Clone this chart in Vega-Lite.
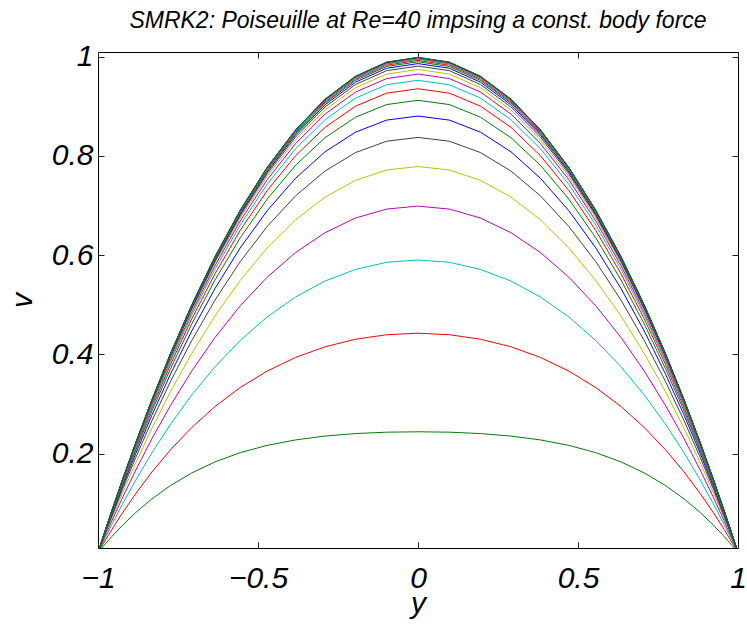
{
"$schema":"https://vega.github.io/schema/vega-lite/v6.json",
"width":640,"height":496,
"autosize":{"type":"none"},
"padding":{"left":98,"top":52,"right":9,"bottom":80},
"background":"white",
"title":{"text":"SMRK2: Poiseuille at Re=40 impsing a const. body force","font":"Liberation Sans","fontSize":23,"fontStyle":"italic","fontWeight":"normal","color":"black","offset":9,"anchor":"middle","frame":"group"},
"config":{"view":{"stroke":"black","strokeWidth":1}},
"data":{"values":[
{"s":"c01","y":-1,"v":0},{"s":"c01","y":-0.9952,"v":0.0038},{"s":"c01","y":-0.9808,"v":0.0150},{"s":"c01","y":-0.9569,"v":0.0325},{"s":"c01","y":-0.9239,"v":0.0551},{"s":"c01","y":-0.8819,"v":0.0811},{"s":"c01","y":-0.8315,"v":0.1085},{"s":"c01","y":-0.773,"v":0.1356},{"s":"c01","y":-0.7071,"v":0.1608},{"s":"c01","y":-0.6344,"v":0.1831},{"s":"c01","y":-0.5556,"v":0.2017},{"s":"c01","y":-0.4714,"v":0.2164},{"s":"c01","y":-0.3827,"v":0.2274},{"s":"c01","y":-0.2903,"v":0.2352},{"s":"c01","y":-0.1951,"v":0.2402},{"s":"c01","y":-0.098,"v":0.2430},{"s":"c01","y":0,"v":0.2438},{"s":"c01","y":0.098,"v":0.2430},{"s":"c01","y":0.1951,"v":0.2402},{"s":"c01","y":0.2903,"v":0.2352},{"s":"c01","y":0.3827,"v":0.2274},{"s":"c01","y":0.4714,"v":0.2164},{"s":"c01","y":0.5556,"v":0.2017},{"s":"c01","y":0.6344,"v":0.1831},{"s":"c01","y":0.7071,"v":0.1608},{"s":"c01","y":0.773,"v":0.1356},{"s":"c01","y":0.8315,"v":0.1085},{"s":"c01","y":0.8819,"v":0.0811},{"s":"c01","y":0.9239,"v":0.0551},{"s":"c01","y":0.9569,"v":0.0325},{"s":"c01","y":0.9808,"v":0.0150},{"s":"c01","y":0.9952,"v":0.0038},{"s":"c01","y":1,"v":0},
{"s":"c02","y":-1,"v":0},{"s":"c02","y":-0.9952,"v":0.0054},{"s":"c02","y":-0.9808,"v":0.0212},{"s":"c02","y":-0.9569,"v":0.0466},{"s":"c02","y":-0.9239,"v":0.0799},{"s":"c02","y":-0.8819,"v":0.1194},{"s":"c02","y":-0.8315,"v":0.1628},{"s":"c02","y":-0.773,"v":0.2078},{"s":"c02","y":-0.7071,"v":0.2524},{"s":"c02","y":-0.6344,"v":0.2947},{"s":"c02","y":-0.5556,"v":0.3330},{"s":"c02","y":-0.4714,"v":0.3662},{"s":"c02","y":-0.3827,"v":0.3937},{"s":"c02","y":-0.2903,"v":0.4152},{"s":"c02","y":-0.1951,"v":0.4304},{"s":"c02","y":-0.098,"v":0.4395},{"s":"c02","y":0,"v":0.4426},{"s":"c02","y":0.098,"v":0.4395},{"s":"c02","y":0.1951,"v":0.4304},{"s":"c02","y":0.2903,"v":0.4152},{"s":"c02","y":0.3827,"v":0.3937},{"s":"c02","y":0.4714,"v":0.3662},{"s":"c02","y":0.5556,"v":0.3330},{"s":"c02","y":0.6344,"v":0.2947},{"s":"c02","y":0.7071,"v":0.2524},{"s":"c02","y":0.773,"v":0.2078},{"s":"c02","y":0.8315,"v":0.1628},{"s":"c02","y":0.8819,"v":0.1194},{"s":"c02","y":0.9239,"v":0.0799},{"s":"c02","y":0.9569,"v":0.0466},{"s":"c02","y":0.9808,"v":0.0212},{"s":"c02","y":0.9952,"v":0.0054},{"s":"c02","y":1,"v":0},
{"s":"c03","y":-1,"v":0},{"s":"c03","y":-0.9952,"v":0.0065},{"s":"c03","y":-0.9808,"v":0.0257},{"s":"c03","y":-0.9569,"v":0.0566},{"s":"c03","y":-0.9239,"v":0.0976},{"s":"c03","y":-0.8819,"v":0.1466},{"s":"c03","y":-0.8315,"v":0.2014},{"s":"c03","y":-0.773,"v":0.2594},{"s":"c03","y":-0.7071,"v":0.3180},{"s":"c03","y":-0.6344,"v":0.3749},{"s":"c03","y":-0.5556,"v":0.4279},{"s":"c03","y":-0.4714,"v":0.4753},{"s":"c03","y":-0.3827,"v":0.5156},{"s":"c03","y":-0.2903,"v":0.5478},{"s":"c03","y":-0.1951,"v":0.5712},{"s":"c03","y":-0.098,"v":0.5855},{"s":"c03","y":0,"v":0.5902},{"s":"c03","y":0.098,"v":0.5855},{"s":"c03","y":0.1951,"v":0.5712},{"s":"c03","y":0.2903,"v":0.5478},{"s":"c03","y":0.3827,"v":0.5156},{"s":"c03","y":0.4714,"v":0.4753},{"s":"c03","y":0.5556,"v":0.4279},{"s":"c03","y":0.6344,"v":0.3749},{"s":"c03","y":0.7071,"v":0.3180},{"s":"c03","y":0.773,"v":0.2594},{"s":"c03","y":0.8315,"v":0.2014},{"s":"c03","y":0.8819,"v":0.1466},{"s":"c03","y":0.9239,"v":0.0976},{"s":"c03","y":0.9569,"v":0.0566},{"s":"c03","y":0.9808,"v":0.0257},{"s":"c03","y":0.9952,"v":0.0065},{"s":"c03","y":1,"v":0},
{"s":"c04","y":-1,"v":0},{"s":"c04","y":-0.9952,"v":0.0073},{"s":"c04","y":-0.9808,"v":0.0290},{"s":"c04","y":-0.9569,"v":0.0639},{"s":"c04","y":-0.9239,"v":0.1105},{"s":"c04","y":-0.8819,"v":0.1667},{"s":"c04","y":-0.8315,"v":0.2299},{"s":"c04","y":-0.773,"v":0.2973},{"s":"c04","y":-0.7071,"v":0.3663},{"s":"c04","y":-0.6344,"v":0.4339},{"s":"c04","y":-0.5556,"v":0.4977},{"s":"c04","y":-0.4714,"v":0.5555},{"s":"c04","y":-0.3827,"v":0.6052},{"s":"c04","y":-0.2903,"v":0.6453},{"s":"c04","y":-0.1951,"v":0.6748},{"s":"c04","y":-0.098,"v":0.6928},{"s":"c04","y":0,"v":0.6988},{"s":"c04","y":0.098,"v":0.6928},{"s":"c04","y":0.1951,"v":0.6748},{"s":"c04","y":0.2903,"v":0.6453},{"s":"c04","y":0.3827,"v":0.6052},{"s":"c04","y":0.4714,"v":0.5555},{"s":"c04","y":0.5556,"v":0.4977},{"s":"c04","y":0.6344,"v":0.4339},{"s":"c04","y":0.7071,"v":0.3663},{"s":"c04","y":0.773,"v":0.2973},{"s":"c04","y":0.8315,"v":0.2299},{"s":"c04","y":0.8819,"v":0.1667},{"s":"c04","y":0.9239,"v":0.1105},{"s":"c04","y":0.9569,"v":0.0639},{"s":"c04","y":0.9808,"v":0.0290},{"s":"c04","y":0.9952,"v":0.0073},{"s":"c04","y":1,"v":0},
{"s":"c05","y":-1,"v":0},{"s":"c05","y":-0.9952,"v":0.0079},{"s":"c05","y":-0.9808,"v":0.0314},{"s":"c05","y":-0.9569,"v":0.0693},{"s":"c05","y":-0.9239,"v":0.1200},{"s":"c05","y":-0.8819,"v":0.1814},{"s":"c05","y":-0.8315,"v":0.2507},{"s":"c05","y":-0.773,"v":0.3252},{"s":"c05","y":-0.7071,"v":0.4017},{"s":"c05","y":-0.6344,"v":0.4773},{"s":"c05","y":-0.5556,"v":0.5490},{"s":"c05","y":-0.4714,"v":0.6144},{"s":"c05","y":-0.3827,"v":0.6710},{"s":"c05","y":-0.2903,"v":0.7170},{"s":"c05","y":-0.1951,"v":0.7509},{"s":"c05","y":-0.098,"v":0.7716},{"s":"c05","y":0,"v":0.7786},{"s":"c05","y":0.098,"v":0.7716},{"s":"c05","y":0.1951,"v":0.7509},{"s":"c05","y":0.2903,"v":0.7170},{"s":"c05","y":0.3827,"v":0.6710},{"s":"c05","y":0.4714,"v":0.6144},{"s":"c05","y":0.5556,"v":0.5490},{"s":"c05","y":0.6344,"v":0.4773},{"s":"c05","y":0.7071,"v":0.4017},{"s":"c05","y":0.773,"v":0.3252},{"s":"c05","y":0.8315,"v":0.2507},{"s":"c05","y":0.8819,"v":0.1814},{"s":"c05","y":0.9239,"v":0.1200},{"s":"c05","y":0.9569,"v":0.0693},{"s":"c05","y":0.9808,"v":0.0314},{"s":"c05","y":0.9952,"v":0.0079},{"s":"c05","y":1,"v":0},
{"s":"c06","y":-1,"v":0},{"s":"c06","y":-0.9952,"v":0.0084},{"s":"c06","y":-0.9808,"v":0.0332},{"s":"c06","y":-0.9569,"v":0.0733},{"s":"c06","y":-0.9239,"v":0.1270},{"s":"c06","y":-0.8819,"v":0.1922},{"s":"c06","y":-0.8315,"v":0.2661},{"s":"c06","y":-0.773,"v":0.3457},{"s":"c06","y":-0.7071,"v":0.4278},{"s":"c06","y":-0.6344,"v":0.5092},{"s":"c06","y":-0.5556,"v":0.5868},{"s":"c06","y":-0.4714,"v":0.6577},{"s":"c06","y":-0.3827,"v":0.7194},{"s":"c06","y":-0.2903,"v":0.7696},{"s":"c06","y":-0.1951,"v":0.8068},{"s":"c06","y":-0.098,"v":0.8296},{"s":"c06","y":0,"v":0.8373},{"s":"c06","y":0.098,"v":0.8296},{"s":"c06","y":0.1951,"v":0.8068},{"s":"c06","y":0.2903,"v":0.7696},{"s":"c06","y":0.3827,"v":0.7194},{"s":"c06","y":0.4714,"v":0.6577},{"s":"c06","y":0.5556,"v":0.5868},{"s":"c06","y":0.6344,"v":0.5092},{"s":"c06","y":0.7071,"v":0.4278},{"s":"c06","y":0.773,"v":0.3457},{"s":"c06","y":0.8315,"v":0.2661},{"s":"c06","y":0.8819,"v":0.1922},{"s":"c06","y":0.9239,"v":0.1270},{"s":"c06","y":0.9569,"v":0.0733},{"s":"c06","y":0.9808,"v":0.0332},{"s":"c06","y":0.9952,"v":0.0084},{"s":"c06","y":1,"v":0},
{"s":"c07","y":-1,"v":0},{"s":"c07","y":-0.9952,"v":0.0087},{"s":"c07","y":-0.9808,"v":0.0345},{"s":"c07","y":-0.9569,"v":0.0762},{"s":"c07","y":-0.9239,"v":0.1322},{"s":"c07","y":-0.8819,"v":0.2002},{"s":"c07","y":-0.8315,"v":0.2774},{"s":"c07","y":-0.773,"v":0.3607},{"s":"c07","y":-0.7071,"v":0.4469},{"s":"c07","y":-0.6344,"v":0.5326},{"s":"c07","y":-0.5556,"v":0.6145},{"s":"c07","y":-0.4714,"v":0.6895},{"s":"c07","y":-0.3827,"v":0.7549},{"s":"c07","y":-0.2903,"v":0.8084},{"s":"c07","y":-0.1951,"v":0.8479},{"s":"c07","y":-0.098,"v":0.8722},{"s":"c07","y":0,"v":0.8804},{"s":"c07","y":0.098,"v":0.8722},{"s":"c07","y":0.1951,"v":0.8479},{"s":"c07","y":0.2903,"v":0.8084},{"s":"c07","y":0.3827,"v":0.7549},{"s":"c07","y":0.4714,"v":0.6895},{"s":"c07","y":0.5556,"v":0.6145},{"s":"c07","y":0.6344,"v":0.5326},{"s":"c07","y":0.7071,"v":0.4469},{"s":"c07","y":0.773,"v":0.3607},{"s":"c07","y":0.8315,"v":0.2774},{"s":"c07","y":0.8819,"v":0.2002},{"s":"c07","y":0.9239,"v":0.1322},{"s":"c07","y":0.9569,"v":0.0762},{"s":"c07","y":0.9808,"v":0.0345},{"s":"c07","y":0.9952,"v":0.0087},{"s":"c07","y":1,"v":0},
{"s":"c08","y":-1,"v":0},{"s":"c08","y":-0.9952,"v":0.0089},{"s":"c08","y":-0.9808,"v":0.0354},{"s":"c08","y":-0.9569,"v":0.0783},{"s":"c08","y":-0.9239,"v":0.1360},{"s":"c08","y":-0.8819,"v":0.2060},{"s":"c08","y":-0.8315,"v":0.2857},{"s":"c08","y":-0.773,"v":0.3718},{"s":"c08","y":-0.7071,"v":0.4610},{"s":"c08","y":-0.6344,"v":0.5498},{"s":"c08","y":-0.5556,"v":0.6348},{"s":"c08","y":-0.4714,"v":0.7129},{"s":"c08","y":-0.3827,"v":0.7811},{"s":"c08","y":-0.2903,"v":0.8368},{"s":"c08","y":-0.1951,"v":0.8781},{"s":"c08","y":-0.098,"v":0.9035},{"s":"c08","y":0,"v":0.9121},{"s":"c08","y":0.098,"v":0.9035},{"s":"c08","y":0.1951,"v":0.8781},{"s":"c08","y":0.2903,"v":0.8368},{"s":"c08","y":0.3827,"v":0.7811},{"s":"c08","y":0.4714,"v":0.7129},{"s":"c08","y":0.5556,"v":0.6348},{"s":"c08","y":0.6344,"v":0.5498},{"s":"c08","y":0.7071,"v":0.4610},{"s":"c08","y":0.773,"v":0.3718},{"s":"c08","y":0.8315,"v":0.2857},{"s":"c08","y":0.8819,"v":0.2060},{"s":"c08","y":0.9239,"v":0.1360},{"s":"c08","y":0.9569,"v":0.0783},{"s":"c08","y":0.9808,"v":0.0354},{"s":"c08","y":0.9952,"v":0.0089},{"s":"c08","y":1,"v":0},
{"s":"c09","y":-1,"v":0},{"s":"c09","y":-0.9952,"v":0.0091},{"s":"c09","y":-0.9808,"v":0.0361},{"s":"c09","y":-0.9569,"v":0.0799},{"s":"c09","y":-0.9239,"v":0.1387},{"s":"c09","y":-0.8819,"v":0.2103},{"s":"c09","y":-0.8315,"v":0.2918},{"s":"c09","y":-0.773,"v":0.3799},{"s":"c09","y":-0.7071,"v":0.4713},{"s":"c09","y":-0.6344,"v":0.5624},{"s":"c09","y":-0.5556,"v":0.6498},{"s":"c09","y":-0.4714,"v":0.7301},{"s":"c09","y":-0.3827,"v":0.8003},{"s":"c09","y":-0.2903,"v":0.8577},{"s":"c09","y":-0.1951,"v":0.9003},{"s":"c09","y":-0.098,"v":0.9265},{"s":"c09","y":0,"v":0.9354},{"s":"c09","y":0.098,"v":0.9265},{"s":"c09","y":0.1951,"v":0.9003},{"s":"c09","y":0.2903,"v":0.8577},{"s":"c09","y":0.3827,"v":0.8003},{"s":"c09","y":0.4714,"v":0.7301},{"s":"c09","y":0.5556,"v":0.6498},{"s":"c09","y":0.6344,"v":0.5624},{"s":"c09","y":0.7071,"v":0.4713},{"s":"c09","y":0.773,"v":0.3799},{"s":"c09","y":0.8315,"v":0.2918},{"s":"c09","y":0.8819,"v":0.2103},{"s":"c09","y":0.9239,"v":0.1387},{"s":"c09","y":0.9569,"v":0.0799},{"s":"c09","y":0.9808,"v":0.0361},{"s":"c09","y":0.9952,"v":0.0091},{"s":"c09","y":1,"v":0},
{"s":"c10","y":-1,"v":0},{"s":"c10","y":-0.9952,"v":0.0092},{"s":"c10","y":-0.9808,"v":0.0366},{"s":"c10","y":-0.9569,"v":0.0811},{"s":"c10","y":-0.9239,"v":0.1408},{"s":"c10","y":-0.8819,"v":0.2135},{"s":"c10","y":-0.8315,"v":0.2962},{"s":"c10","y":-0.773,"v":0.3859},{"s":"c10","y":-0.7071,"v":0.4789},{"s":"c10","y":-0.6344,"v":0.5717},{"s":"c10","y":-0.5556,"v":0.6608},{"s":"c10","y":-0.4714,"v":0.7427},{"s":"c10","y":-0.3827,"v":0.8144},{"s":"c10","y":-0.2903,"v":0.8731},{"s":"c10","y":-0.1951,"v":0.9167},{"s":"c10","y":-0.098,"v":0.9435},{"s":"c10","y":0,"v":0.9525},{"s":"c10","y":0.098,"v":0.9435},{"s":"c10","y":0.1951,"v":0.9167},{"s":"c10","y":0.2903,"v":0.8731},{"s":"c10","y":0.3827,"v":0.8144},{"s":"c10","y":0.4714,"v":0.7427},{"s":"c10","y":0.5556,"v":0.6608},{"s":"c10","y":0.6344,"v":0.5717},{"s":"c10","y":0.7071,"v":0.4789},{"s":"c10","y":0.773,"v":0.3859},{"s":"c10","y":0.8315,"v":0.2962},{"s":"c10","y":0.8819,"v":0.2135},{"s":"c10","y":0.9239,"v":0.1408},{"s":"c10","y":0.9569,"v":0.0811},{"s":"c10","y":0.9808,"v":0.0366},{"s":"c10","y":0.9952,"v":0.0092},{"s":"c10","y":1,"v":0},
{"s":"c11","y":-1,"v":0},{"s":"c11","y":-0.9952,"v":0.0093},{"s":"c11","y":-0.9808,"v":0.0370},{"s":"c11","y":-0.9569,"v":0.0819},{"s":"c11","y":-0.9239,"v":0.1423},{"s":"c11","y":-0.8819,"v":0.2158},{"s":"c11","y":-0.8315,"v":0.2995},{"s":"c11","y":-0.773,"v":0.3903},{"s":"c11","y":-0.7071,"v":0.4845},{"s":"c11","y":-0.6344,"v":0.5786},{"s":"c11","y":-0.5556,"v":0.6689},{"s":"c11","y":-0.4714,"v":0.7520},{"s":"c11","y":-0.3827,"v":0.8248},{"s":"c11","y":-0.2903,"v":0.8844},{"s":"c11","y":-0.1951,"v":0.9287},{"s":"c11","y":-0.098,"v":0.9559},{"s":"c11","y":0,"v":0.9651},{"s":"c11","y":0.098,"v":0.9559},{"s":"c11","y":0.1951,"v":0.9287},{"s":"c11","y":0.2903,"v":0.8844},{"s":"c11","y":0.3827,"v":0.8248},{"s":"c11","y":0.4714,"v":0.7520},{"s":"c11","y":0.5556,"v":0.6689},{"s":"c11","y":0.6344,"v":0.5786},{"s":"c11","y":0.7071,"v":0.4845},{"s":"c11","y":0.773,"v":0.3903},{"s":"c11","y":0.8315,"v":0.2995},{"s":"c11","y":0.8819,"v":0.2158},{"s":"c11","y":0.9239,"v":0.1423},{"s":"c11","y":0.9569,"v":0.0819},{"s":"c11","y":0.9808,"v":0.0370},{"s":"c11","y":0.9952,"v":0.0093},{"s":"c11","y":1,"v":0},
{"s":"c12","y":-1,"v":0},{"s":"c12","y":-0.9952,"v":0.0094},{"s":"c12","y":-0.9808,"v":0.0373},{"s":"c12","y":-0.9569,"v":0.0825},{"s":"c12","y":-0.9239,"v":0.1434},{"s":"c12","y":-0.8819,"v":0.2175},{"s":"c12","y":-0.8315,"v":0.3019},{"s":"c12","y":-0.773,"v":0.3935},{"s":"c12","y":-0.7071,"v":0.4886},{"s":"c12","y":-0.6344,"v":0.5836},{"s":"c12","y":-0.5556,"v":0.6749},{"s":"c12","y":-0.4714,"v":0.7588},{"s":"c12","y":-0.3827,"v":0.8324},{"s":"c12","y":-0.2903,"v":0.8927},{"s":"c12","y":-0.1951,"v":0.9375},{"s":"c12","y":-0.098,"v":0.9650},{"s":"c12","y":0,"v":0.9743},{"s":"c12","y":0.098,"v":0.9650},{"s":"c12","y":0.1951,"v":0.9375},{"s":"c12","y":0.2903,"v":0.8927},{"s":"c12","y":0.3827,"v":0.8324},{"s":"c12","y":0.4714,"v":0.7588},{"s":"c12","y":0.5556,"v":0.6749},{"s":"c12","y":0.6344,"v":0.5836},{"s":"c12","y":0.7071,"v":0.4886},{"s":"c12","y":0.773,"v":0.3935},{"s":"c12","y":0.8315,"v":0.3019},{"s":"c12","y":0.8819,"v":0.2175},{"s":"c12","y":0.9239,"v":0.1434},{"s":"c12","y":0.9569,"v":0.0825},{"s":"c12","y":0.9808,"v":0.0373},{"s":"c12","y":0.9952,"v":0.0094},{"s":"c12","y":1,"v":0},
{"s":"c13","y":-1,"v":0},{"s":"c13","y":-0.9952,"v":0.0095},{"s":"c13","y":-0.9808,"v":0.0375},{"s":"c13","y":-0.9569,"v":0.0830},{"s":"c13","y":-0.9239,"v":0.1442},{"s":"c13","y":-0.8819,"v":0.2187},{"s":"c13","y":-0.8315,"v":0.3037},{"s":"c13","y":-0.773,"v":0.3959},{"s":"c13","y":-0.7071,"v":0.4916},{"s":"c13","y":-0.6344,"v":0.5873},{"s":"c13","y":-0.5556,"v":0.6792},{"s":"c13","y":-0.4714,"v":0.7639},{"s":"c13","y":-0.3827,"v":0.8380},{"s":"c13","y":-0.2903,"v":0.8988},{"s":"c13","y":-0.1951,"v":0.9440},{"s":"c13","y":-0.098,"v":0.9718},{"s":"c13","y":0,"v":0.9811},{"s":"c13","y":0.098,"v":0.9718},{"s":"c13","y":0.1951,"v":0.9440},{"s":"c13","y":0.2903,"v":0.8988},{"s":"c13","y":0.3827,"v":0.8380},{"s":"c13","y":0.4714,"v":0.7639},{"s":"c13","y":0.5556,"v":0.6792},{"s":"c13","y":0.6344,"v":0.5873},{"s":"c13","y":0.7071,"v":0.4916},{"s":"c13","y":0.773,"v":0.3959},{"s":"c13","y":0.8315,"v":0.3037},{"s":"c13","y":0.8819,"v":0.2187},{"s":"c13","y":0.9239,"v":0.1442},{"s":"c13","y":0.9569,"v":0.0830},{"s":"c13","y":0.9808,"v":0.0375},{"s":"c13","y":0.9952,"v":0.0095},{"s":"c13","y":1,"v":0},
{"s":"c14","y":-1,"v":0},{"s":"c14","y":-0.9952,"v":0.0095},{"s":"c14","y":-0.9808,"v":0.0376},{"s":"c14","y":-0.9569,"v":0.0833},{"s":"c14","y":-0.9239,"v":0.1448},{"s":"c14","y":-0.8819,"v":0.2197},{"s":"c14","y":-0.8315,"v":0.3050},{"s":"c14","y":-0.773,"v":0.3976},{"s":"c14","y":-0.7071,"v":0.4938},{"s":"c14","y":-0.6344,"v":0.5900},{"s":"c14","y":-0.5556,"v":0.6824},{"s":"c14","y":-0.4714,"v":0.7676},{"s":"c14","y":-0.3827,"v":0.8421},{"s":"c14","y":-0.2903,"v":0.9033},{"s":"c14","y":-0.1951,"v":0.9487},{"s":"c14","y":-0.098,"v":0.9767},{"s":"c14","y":0,"v":0.9861},{"s":"c14","y":0.098,"v":0.9767},{"s":"c14","y":0.1951,"v":0.9487},{"s":"c14","y":0.2903,"v":0.9033},{"s":"c14","y":0.3827,"v":0.8421},{"s":"c14","y":0.4714,"v":0.7676},{"s":"c14","y":0.5556,"v":0.6824},{"s":"c14","y":0.6344,"v":0.5900},{"s":"c14","y":0.7071,"v":0.4938},{"s":"c14","y":0.773,"v":0.3976},{"s":"c14","y":0.8315,"v":0.3050},{"s":"c14","y":0.8819,"v":0.2197},{"s":"c14","y":0.9239,"v":0.1448},{"s":"c14","y":0.9569,"v":0.0833},{"s":"c14","y":0.9808,"v":0.0376},{"s":"c14","y":0.9952,"v":0.0095},{"s":"c14","y":1,"v":0},
{"s":"c15","y":-1,"v":0},{"s":"c15","y":-0.9952,"v":0.0095},{"s":"c15","y":-0.9808,"v":0.0378},{"s":"c15","y":-0.9569,"v":0.0836},{"s":"c15","y":-0.9239,"v":0.1452},{"s":"c15","y":-0.8819,"v":0.2203},{"s":"c15","y":-0.8315,"v":0.3060},{"s":"c15","y":-0.773,"v":0.3989},{"s":"c15","y":-0.7071,"v":0.4955},{"s":"c15","y":-0.6344,"v":0.5920},{"s":"c15","y":-0.5556,"v":0.6848},{"s":"c15","y":-0.4714,"v":0.7703},{"s":"c15","y":-0.3827,"v":0.8452},{"s":"c15","y":-0.2903,"v":0.9066},{"s":"c15","y":-0.1951,"v":0.9522},{"s":"c15","y":-0.098,"v":0.9803},{"s":"c15","y":0,"v":0.9898},{"s":"c15","y":0.098,"v":0.9803},{"s":"c15","y":0.1951,"v":0.9522},{"s":"c15","y":0.2903,"v":0.9066},{"s":"c15","y":0.3827,"v":0.8452},{"s":"c15","y":0.4714,"v":0.7703},{"s":"c15","y":0.5556,"v":0.6848},{"s":"c15","y":0.6344,"v":0.5920},{"s":"c15","y":0.7071,"v":0.4955},{"s":"c15","y":0.773,"v":0.3989},{"s":"c15","y":0.8315,"v":0.3060},{"s":"c15","y":0.8819,"v":0.2203},{"s":"c15","y":0.9239,"v":0.1452},{"s":"c15","y":0.9569,"v":0.0836},{"s":"c15","y":0.9808,"v":0.0378},{"s":"c15","y":0.9952,"v":0.0095},{"s":"c15","y":1,"v":0},
{"s":"c16","y":-1,"v":0},{"s":"c16","y":-0.9952,"v":0.0096},{"s":"c16","y":-0.9808,"v":0.0378},{"s":"c16","y":-0.9569,"v":0.0838},{"s":"c16","y":-0.9239,"v":0.1456},{"s":"c16","y":-0.8819,"v":0.2208},{"s":"c16","y":-0.8315,"v":0.3067},{"s":"c16","y":-0.773,"v":0.3998},{"s":"c16","y":-0.7071,"v":0.4967},{"s":"c16","y":-0.6344,"v":0.5935},{"s":"c16","y":-0.5556,"v":0.6865},{"s":"c16","y":-0.4714,"v":0.7723},{"s":"c16","y":-0.3827,"v":0.8474},{"s":"c16","y":-0.2903,"v":0.9090},{"s":"c16","y":-0.1951,"v":0.9548},{"s":"c16","y":-0.098,"v":0.9830},{"s":"c16","y":0,"v":0.9925},{"s":"c16","y":0.098,"v":0.9830},{"s":"c16","y":0.1951,"v":0.9548},{"s":"c16","y":0.2903,"v":0.9090},{"s":"c16","y":0.3827,"v":0.8474},{"s":"c16","y":0.4714,"v":0.7723},{"s":"c16","y":0.5556,"v":0.6865},{"s":"c16","y":0.6344,"v":0.5935},{"s":"c16","y":0.7071,"v":0.4967},{"s":"c16","y":0.773,"v":0.3998},{"s":"c16","y":0.8315,"v":0.3067},{"s":"c16","y":0.8819,"v":0.2208},{"s":"c16","y":0.9239,"v":0.1456},{"s":"c16","y":0.9569,"v":0.0838},{"s":"c16","y":0.9808,"v":0.0378},{"s":"c16","y":0.9952,"v":0.0096},{"s":"c16","y":1,"v":0},
{"s":"c17","y":-1,"v":0},{"s":"c17","y":-0.9952,"v":0.0096},{"s":"c17","y":-0.9808,"v":0.0379},{"s":"c17","y":-0.9569,"v":0.0839},{"s":"c17","y":-0.9239,"v":0.1458},{"s":"c17","y":-0.8819,"v":0.2212},{"s":"c17","y":-0.8315,"v":0.3072},{"s":"c17","y":-0.773,"v":0.4005},{"s":"c17","y":-0.7071,"v":0.4976},{"s":"c17","y":-0.6344,"v":0.5946},{"s":"c17","y":-0.5556,"v":0.6878},{"s":"c17","y":-0.4714,"v":0.7737},{"s":"c17","y":-0.3827,"v":0.8490},{"s":"c17","y":-0.2903,"v":0.9108},{"s":"c17","y":-0.1951,"v":0.9567},{"s":"c17","y":-0.098,"v":0.9850},{"s":"c17","y":0,"v":0.9945},{"s":"c17","y":0.098,"v":0.9850},{"s":"c17","y":0.1951,"v":0.9567},{"s":"c17","y":0.2903,"v":0.9108},{"s":"c17","y":0.3827,"v":0.8490},{"s":"c17","y":0.4714,"v":0.7737},{"s":"c17","y":0.5556,"v":0.6878},{"s":"c17","y":0.6344,"v":0.5946},{"s":"c17","y":0.7071,"v":0.4976},{"s":"c17","y":0.773,"v":0.4005},{"s":"c17","y":0.8315,"v":0.3072},{"s":"c17","y":0.8819,"v":0.2212},{"s":"c17","y":0.9239,"v":0.1458},{"s":"c17","y":0.9569,"v":0.0839},{"s":"c17","y":0.9808,"v":0.0379},{"s":"c17","y":0.9952,"v":0.0096},{"s":"c17","y":1,"v":0},
{"s":"c18","y":-1,"v":0},{"s":"c18","y":-0.9952,"v":0.0096},{"s":"c18","y":-0.9808,"v":0.0379},{"s":"c18","y":-0.9569,"v":0.0840},{"s":"c18","y":-0.9239,"v":0.1460},{"s":"c18","y":-0.8819,"v":0.2215},{"s":"c18","y":-0.8315,"v":0.3076},{"s":"c18","y":-0.773,"v":0.4010},{"s":"c18","y":-0.7071,"v":0.4982},{"s":"c18","y":-0.6344,"v":0.5953},{"s":"c18","y":-0.5556,"v":0.6887},{"s":"c18","y":-0.4714,"v":0.7748},{"s":"c18","y":-0.3827,"v":0.8502},{"s":"c18","y":-0.2903,"v":0.9121},{"s":"c18","y":-0.1951,"v":0.9581},{"s":"c18","y":-0.098,"v":0.9864},{"s":"c18","y":0,"v":0.9960},{"s":"c18","y":0.098,"v":0.9864},{"s":"c18","y":0.1951,"v":0.9581},{"s":"c18","y":0.2903,"v":0.9121},{"s":"c18","y":0.3827,"v":0.8502},{"s":"c18","y":0.4714,"v":0.7748},{"s":"c18","y":0.5556,"v":0.6887},{"s":"c18","y":0.6344,"v":0.5953},{"s":"c18","y":0.7071,"v":0.4982},{"s":"c18","y":0.773,"v":0.4010},{"s":"c18","y":0.8315,"v":0.3076},{"s":"c18","y":0.8819,"v":0.2215},{"s":"c18","y":0.9239,"v":0.1460},{"s":"c18","y":0.9569,"v":0.0840},{"s":"c18","y":0.9808,"v":0.0379},{"s":"c18","y":0.9952,"v":0.0096},{"s":"c18","y":1,"v":0},
{"s":"c19","y":-1,"v":0},{"s":"c19","y":-0.9952,"v":0.0096},{"s":"c19","y":-0.9808,"v":0.0380},{"s":"c19","y":-0.9569,"v":0.0841},{"s":"c19","y":-0.9239,"v":0.1461},{"s":"c19","y":-0.8819,"v":0.2217},{"s":"c19","y":-0.8315,"v":0.3079},{"s":"c19","y":-0.773,"v":0.4014},{"s":"c19","y":-0.7071,"v":0.4987},{"s":"c19","y":-0.6344,"v":0.5959},{"s":"c19","y":-0.5556,"v":0.6894},{"s":"c19","y":-0.4714,"v":0.7756},{"s":"c19","y":-0.3827,"v":0.8511},{"s":"c19","y":-0.2903,"v":0.9131},{"s":"c19","y":-0.1951,"v":0.9591},{"s":"c19","y":-0.098,"v":0.9875},{"s":"c19","y":0,"v":0.9970},{"s":"c19","y":0.098,"v":0.9875},{"s":"c19","y":0.1951,"v":0.9591},{"s":"c19","y":0.2903,"v":0.9131},{"s":"c19","y":0.3827,"v":0.8511},{"s":"c19","y":0.4714,"v":0.7756},{"s":"c19","y":0.5556,"v":0.6894},{"s":"c19","y":0.6344,"v":0.5959},{"s":"c19","y":0.7071,"v":0.4987},{"s":"c19","y":0.773,"v":0.4014},{"s":"c19","y":0.8315,"v":0.3079},{"s":"c19","y":0.8819,"v":0.2217},{"s":"c19","y":0.9239,"v":0.1461},{"s":"c19","y":0.9569,"v":0.0841},{"s":"c19","y":0.9808,"v":0.0380},{"s":"c19","y":0.9952,"v":0.0096},{"s":"c19","y":1,"v":0},
{"s":"c20","y":-1,"v":0},{"s":"c20","y":-0.9952,"v":0.0096},{"s":"c20","y":-0.9808,"v":0.0380},{"s":"c20","y":-0.9569,"v":0.0841},{"s":"c20","y":-0.9239,"v":0.1462},{"s":"c20","y":-0.8819,"v":0.2218},{"s":"c20","y":-0.8315,"v":0.3081},{"s":"c20","y":-0.773,"v":0.4017},{"s":"c20","y":-0.7071,"v":0.4990},{"s":"c20","y":-0.6344,"v":0.5964},{"s":"c20","y":-0.5556,"v":0.6899},{"s":"c20","y":-0.4714,"v":0.7762},{"s":"c20","y":-0.3827,"v":0.8518},{"s":"c20","y":-0.2903,"v":0.9138},{"s":"c20","y":-0.1951,"v":0.9599},{"s":"c20","y":-0.098,"v":0.9882},{"s":"c20","y":0,"v":0.9978},{"s":"c20","y":0.098,"v":0.9882},{"s":"c20","y":0.1951,"v":0.9599},{"s":"c20","y":0.2903,"v":0.9138},{"s":"c20","y":0.3827,"v":0.8518},{"s":"c20","y":0.4714,"v":0.7762},{"s":"c20","y":0.5556,"v":0.6899},{"s":"c20","y":0.6344,"v":0.5964},{"s":"c20","y":0.7071,"v":0.4990},{"s":"c20","y":0.773,"v":0.4017},{"s":"c20","y":0.8315,"v":0.3081},{"s":"c20","y":0.8819,"v":0.2218},{"s":"c20","y":0.9239,"v":0.1462},{"s":"c20","y":0.9569,"v":0.0841},{"s":"c20","y":0.9808,"v":0.0380},{"s":"c20","y":0.9952,"v":0.0096},{"s":"c20","y":1,"v":0},
{"s":"c21","y":-1,"v":0},{"s":"c21","y":-0.9952,"v":0.0096},{"s":"c21","y":-0.9808,"v":0.0380},{"s":"c21","y":-0.9569,"v":0.0842},{"s":"c21","y":-0.9239,"v":0.1463},{"s":"c21","y":-0.8819,"v":0.2219},{"s":"c21","y":-0.8315,"v":0.3082},{"s":"c21","y":-0.773,"v":0.4019},{"s":"c21","y":-0.7071,"v":0.4993},{"s":"c21","y":-0.6344,"v":0.5967},{"s":"c21","y":-0.5556,"v":0.6903},{"s":"c21","y":-0.4714,"v":0.7766},{"s":"c21","y":-0.3827,"v":0.8522},{"s":"c21","y":-0.2903,"v":0.9143},{"s":"c21","y":-0.1951,"v":0.9604},{"s":"c21","y":-0.098,"v":0.9888},{"s":"c21","y":0,"v":0.9984},{"s":"c21","y":0.098,"v":0.9888},{"s":"c21","y":0.1951,"v":0.9604},{"s":"c21","y":0.2903,"v":0.9143},{"s":"c21","y":0.3827,"v":0.8522},{"s":"c21","y":0.4714,"v":0.7766},{"s":"c21","y":0.5556,"v":0.6903},{"s":"c21","y":0.6344,"v":0.5967},{"s":"c21","y":0.7071,"v":0.4993},{"s":"c21","y":0.773,"v":0.4019},{"s":"c21","y":0.8315,"v":0.3082},{"s":"c21","y":0.8819,"v":0.2219},{"s":"c21","y":0.9239,"v":0.1463},{"s":"c21","y":0.9569,"v":0.0842},{"s":"c21","y":0.9808,"v":0.0380},{"s":"c21","y":0.9952,"v":0.0096},{"s":"c21","y":1,"v":0},
{"s":"c22","y":-1,"v":0},{"s":"c22","y":-0.9952,"v":0.0096},{"s":"c22","y":-0.9808,"v":0.0380},{"s":"c22","y":-0.9569,"v":0.0842},{"s":"c22","y":-0.9239,"v":0.1463},{"s":"c22","y":-0.8819,"v":0.2220},{"s":"c22","y":-0.8315,"v":0.3083},{"s":"c22","y":-0.773,"v":0.4020},{"s":"c22","y":-0.7071,"v":0.4995},{"s":"c22","y":-0.6344,"v":0.5969},{"s":"c22","y":-0.5556,"v":0.6906},{"s":"c22","y":-0.4714,"v":0.7769},{"s":"c22","y":-0.3827,"v":0.8526},{"s":"c22","y":-0.2903,"v":0.9147},{"s":"c22","y":-0.1951,"v":0.9608},{"s":"c22","y":-0.098,"v":0.9892},{"s":"c22","y":0,"v":0.9988},{"s":"c22","y":0.098,"v":0.9892},{"s":"c22","y":0.1951,"v":0.9608},{"s":"c22","y":0.2903,"v":0.9147},{"s":"c22","y":0.3827,"v":0.8526},{"s":"c22","y":0.4714,"v":0.7769},{"s":"c22","y":0.5556,"v":0.6906},{"s":"c22","y":0.6344,"v":0.5969},{"s":"c22","y":0.7071,"v":0.4995},{"s":"c22","y":0.773,"v":0.4020},{"s":"c22","y":0.8315,"v":0.3083},{"s":"c22","y":0.8819,"v":0.2220},{"s":"c22","y":0.9239,"v":0.1463},{"s":"c22","y":0.9569,"v":0.0842},{"s":"c22","y":0.9808,"v":0.0380},{"s":"c22","y":0.9952,"v":0.0096},{"s":"c22","y":1,"v":0}
]},
"layer":[
{"mark":{"type":"line","strokeWidth":1,"clip":true},
 "encoding":{
  "x":{"field":"y","type":"quantitative","scale":{"domain":[-1,1],"nice":false,"zero":false},
       "axis":{"orient":"bottom","values":[-1,-0.5,0,0.5,1],"format":"~g","offset":-6,"tickSize":6,"tickColor":"#222222","tickWidth":1,"domain":false,"grid":false,"labelFont":"Liberation Sans","labelFontSize":30,"labelFontStyle":"italic","labelColor":"black","labelPadding":15,"labelFlush":false,"labelOverlap":false,"labelBound":false,"title":"y","titleFont":"Liberation Sans","titleFontSize":30,"titleFontStyle":"italic","titleFontWeight":"normal","titleColor":"black","titlePadding":-5}},
  "y":{"field":"v","type":"quantitative","scale":{"domain":[0.0095,1.0095],"nice":false,"zero":false},
       "axis":{"orient":"left","values":[0.2,0.4,0.6,0.8,1],"format":"~g","offset":-6,"tickSize":6,"tickColor":"#222222","tickWidth":1,"domain":false,"grid":false,"labelFont":"Liberation Sans","labelFontSize":30,"labelFontStyle":"italic","labelColor":"black","labelPadding":5,"labelFlush":false,"labelOverlap":false,"labelBound":false,"title":"v","titleFont":"Liberation Sans","titleFontSize":30,"titleFontStyle":"italic","titleFontWeight":"normal","titleColor":"black","titlePadding":14}},
  "color":{"field":"s","type":"nominal","legend":null,
    "scale":{"domain":["c01","c02","c03","c04","c05","c06","c07","c08","c09","c10","c11","c12","c13","c14","c15","c16","c17","c18","c19","c20","c21","c22"],
             "range":["#008000","#ff0000","#00bfbf","#bf00bf","#bfbf00","#404040","#0000ff","#008000","#ff0000","#00bfbf","#bf00bf","#bfbf00","#404040","#0000ff","#008000","#ff0000","#00bfbf","#bf00bf","#bfbf00","#404040","#0000ff","#008000"]}}
 }},
{"mark":{"type":"line","strokeOpacity":0,"clip":true},
 "encoding":{
  "detail":{"field":"s","type":"nominal"},
  "x":{"field":"y","type":"quantitative",
       "axis":{"orient":"top","values":[-1,-0.5,0,0.5,1],"offset":-6,"tickSize":6,"tickColor":"#222222","tickWidth":1,"domain":false,"grid":false,"labels":false,"title":null}},
  "y":{"field":"v","type":"quantitative",
       "axis":{"orient":"right","values":[0.2,0.4,0.6,0.8,1],"offset":-6,"tickSize":6,"tickColor":"#222222","tickWidth":1,"domain":false,"grid":false,"labels":false,"title":null}}
 }}
],
"resolve":{"axis":{"x":"independent","y":"independent"}}
}
